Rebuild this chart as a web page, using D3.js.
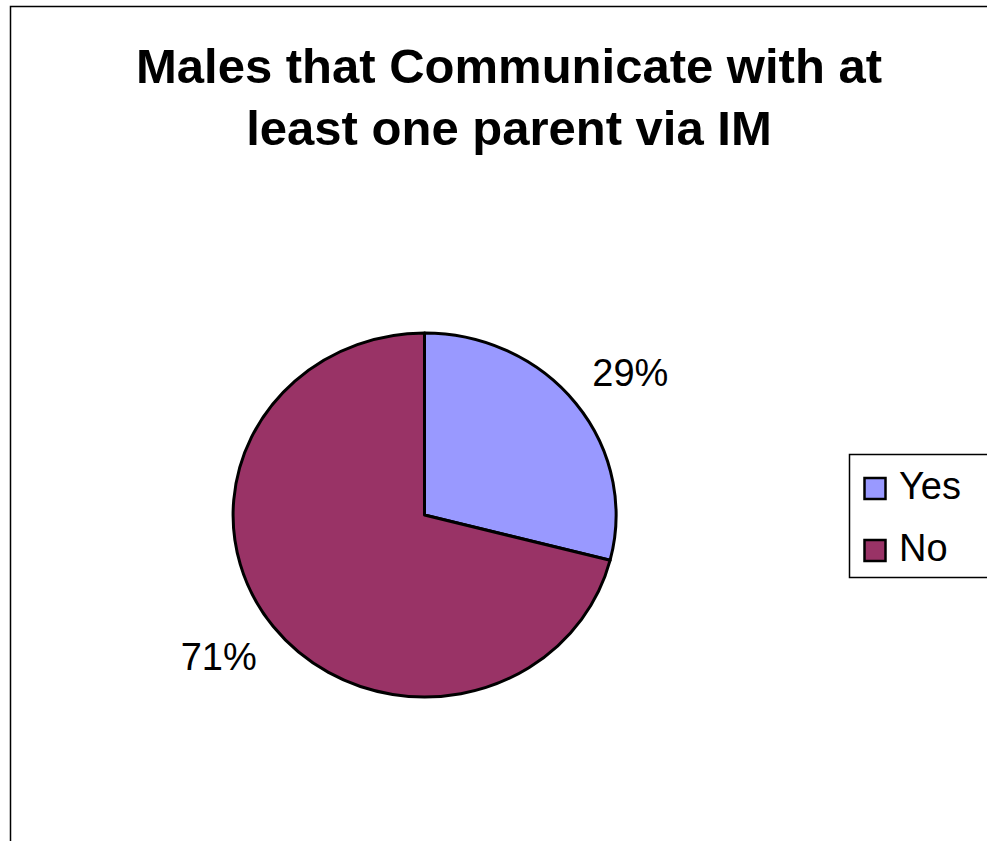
<!DOCTYPE html>
<html>
<head>
<meta charset="utf-8">
<script src="https://cdn.jsdelivr.net/npm/d3@7"></script>
<style>
  html, body { margin: 0; padding: 0; background: #fff; }
  svg { display: block; }
  text { font-family: "Liberation Sans", Arial, sans-serif; fill: #000; }
</style>
</head>
<body>
<svg id="chart" width="987" height="841"></svg>
<script>
const titleLines = ["Males that Communicate with at", "least one parent via IM"];
const categories = ["Yes", "No"];
const values = [29, 71];
const colors = ["#9999FF", "#993366"];

const svg = d3.select("#chart");

// chart area border (extends past right/bottom of window)
svg.append("rect")
  .attr("x", 10.5).attr("y", 6.5)
  .attr("width", 1200).attr("height", 1200)
  .attr("fill", "#fff").attr("stroke", "#000").attr("stroke-width", 1.5);

// title
svg.append("text")
  .attr("text-anchor", "middle")
  .attr("font-size", 49).attr("font-weight", "bold")
  .selectAll("tspan").data(titleLines).join("tspan")
  .attr("x", 509)
  .attr("y", (d, i) => 83 + i * 62)
  .text(d => d);

// pie
const cx = 424.5, cy = 515, rx = 191.5, ry = 182;
const pie = d3.pie().sort(null).value(d => d.value);
const data = pie(categories.map((c, i) => ({ cat: c, value: values[i], color: colors[i] })));
const arc = d3.arc().innerRadius(0).outerRadius(1);

const g = svg.append("g");
g.append("g")
  .attr("transform", `translate(${cx},${cy}) scale(${rx},${ry})`)
  .selectAll("path").data(data).join("path")
  .attr("d", arc)
  .attr("fill", d => d.data.color)
  .attr("stroke", "#000")
  .attr("stroke-width", 3)
  .attr("vector-effect", "non-scaling-stroke")
  .attr("stroke-linejoin", "round");

// labels
const total = d3.sum(values);
const fmt = d3.format(".0%");
const kx = 1.36, ky = 1.27;
g.selectAll("text.lbl").data(data).join("text")
  .attr("class", "lbl")
  .attr("text-anchor", "middle")
  .attr("font-size", 38)
  .attr("x", d => { const a = (d.startAngle + d.endAngle) / 2; return cx + Math.sin(a) * rx * kx; })
  .attr("y", d => { const a = (d.startAngle + d.endAngle) / 2; return cy - Math.cos(a) * ry * ky + 13; })
  .text(d => fmt(d.data.value / total));

// legend
const lg = svg.append("g");
lg.append("rect")
  .attr("x", 849.5).attr("y", 454.5)
  .attr("width", 300).attr("height", 123)
  .attr("fill", "#fff").attr("stroke", "#000").attr("stroke-width", 1.5);
const rows = lg.selectAll("g.row").data(categories).join("g")
  .attr("class", "row")
  .attr("transform", (d, i) => `translate(0,${488.5 + i * 62})`);
rows.append("rect")
  .attr("x", 864.5).attr("y", -10.5)
  .attr("width", 21).attr("height", 21)
  .attr("fill", (d, i) => colors[i])
  .attr("stroke", "#000").attr("stroke-width", 2.5);
rows.append("text")
  .attr("x", 899).attr("y", 10)
  .attr("font-size", 38)
  .text(d => d);
</script>
</body>
</html>
